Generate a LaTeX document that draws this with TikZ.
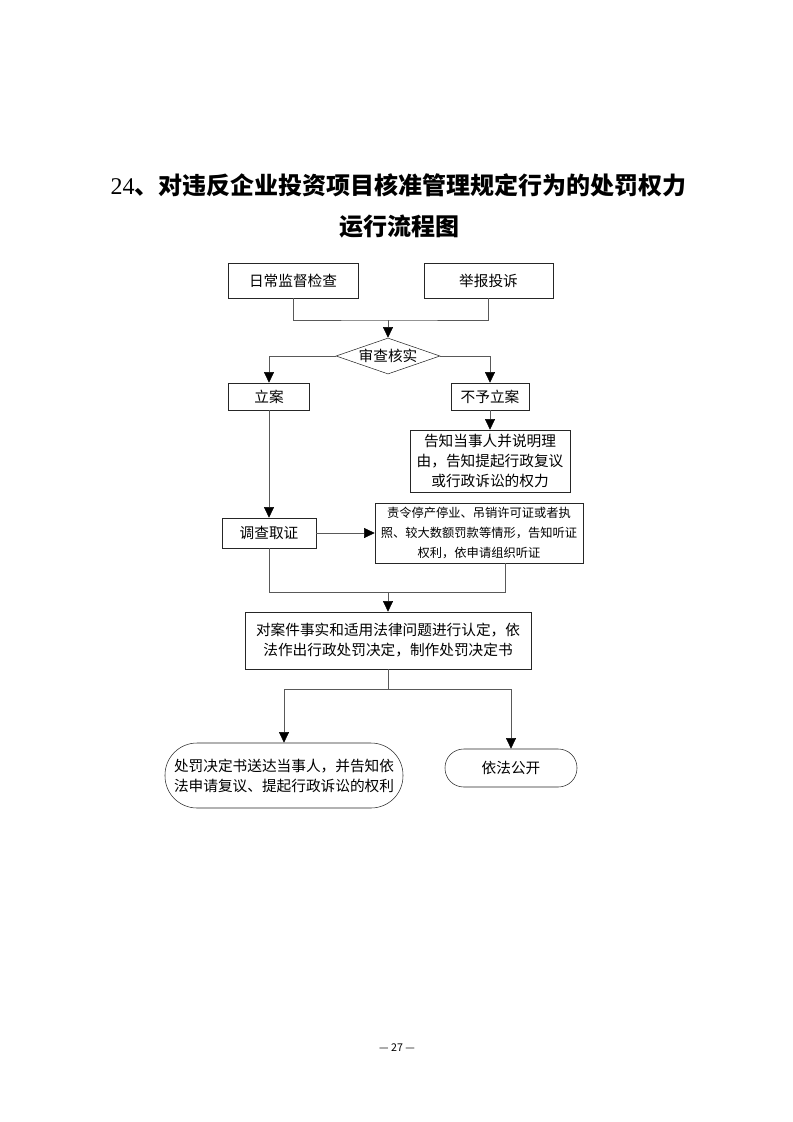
\documentclass[tikz,border=0pt]{standalone}
\usepackage{fontspec}
\setmainfont{Liberation Serif}
\newfontfamily\cjk{Noto Sans CJK SC}
\usetikzlibrary{arrows.meta,shapes.geometric}

\tikzset{
  boite/.style={draw=black!85,rectangle,inner sep=1pt,font=\cjk\fontsize{11}{15}\selectfont},
  fleche/.style={-{Triangle[length=8pt,width=7.5pt,color=black]}},
  trait/.style={draw=black!65}
}

\begin{document}
\begin{tikzpicture}[x=0.75pt,y=-0.75pt,thin,every text node part/.style={align=center}]

    \useasboundingbox (0,0) rectangle (793,1122);

    % --------------------------------------------------------- %
    % ------------- title
    % --------------------------------------------------------- %
    \node[font=\cjk\bfseries\fontsize{18}{22}\selectfont] (titre1) at (398.5,185) {{\rmfamily\mdseries 24}、对违反企业投资项目核准管理规定行为的处罚权力};
    \node[font=\cjk\bfseries\fontsize{18}{22}\selectfont] (titre2) at (399,227) {运行流程图};

    % --------------------------------------------------------- %
    % ------------- sources and check
    % --------------------------------------------------------- %
    \node[boite,minimum width=97.5pt,minimum height=26.25pt] (quot) at (293,280.5) {日常监督检查};
    \node[boite,minimum width=96.75pt,minimum height=26.25pt] (plainte) at (488.5,280.5) {举报投诉};
    \coordinate (joint1) at (388,320);
    \node[boite,diamond,aspect=2.9,inner sep=0pt,minimum width=78pt,minimum height=27pt] (verif) at (388,356) {审查核实};

    \draw[trait] (quot.south) |- (joint1) -| (plainte.south);
    \draw[trait,fleche] (joint1) -- (verif.north);

    % --------------------------------------------------------- %
    % ------------- filing or not
    % --------------------------------------------------------- %
    \node[boite,minimum width=60.75pt,minimum height=20.25pt] (lian) at (269,396.5) {立案};
    \node[boite,minimum width=58.5pt,minimum height=20.25pt] (refus) at (490,396.5) {不予立案};
    \node[boite,minimum width=120pt,minimum height=46.5pt] (gaozhi) at (490,461) {告知当事人并说明理\\由，告知提起行政复议\\或行政诉讼的权力};

    \draw[trait,fleche] (verif.west) -| (lian.north);
    \draw[trait,fleche] (verif.east) -| (refus.north);
    \draw[trait,fleche] (refus) -- (gaozhi);

    % --------------------------------------------------------- %
    % ------------- investigation and hearing
    % --------------------------------------------------------- %
    \node[boite,minimum width=70.5pt,minimum height=22.5pt] (diaocha) at (269,533) {调查取证};
    \node[boite,minimum width=156pt,minimum height=45pt,font=\cjk\fontsize{9.2}{15}\selectfont] (tingzheng) at (479,533) {责令停产停业、吊销许可证或者执\\照、较大数额罚款等情形，告知听证\\权利，依申请组织听证};
    \coordinate (joint2) at (388,592);

    \draw[trait,fleche] (lian) -- (diaocha);
    \draw[trait,fleche] (diaocha) -- (tingzheng);
    \draw[trait] (diaocha.south) |- (joint2) -| ([xshift=20pt]tingzheng.south);

    % --------------------------------------------------------- %
    % ------------- decision
    % --------------------------------------------------------- %
    \node[boite,minimum width=214.5pt,minimum height=42.75pt] (jueding) at (388,640.5) {对案件事实和适用法律问题进行认定，依\\法作出行政处罚决定，制作处罚决定书};
    \coordinate (joint3) at (388,689);

    \draw[trait,fleche] (joint2) -- (jueding);
    \draw[trait] (jueding) -- (joint3);

    % --------------------------------------------------------- %
    % ------------- delivery and publication
    % --------------------------------------------------------- %
    \node[boite,rounded corners=24pt,minimum width=178.5pt,minimum height=48.75pt] (songda) at (284,775.5) {处罚决定书送达当事人，并告知依\\法申请复议、提起行政诉讼的权利};
    \node[boite,rounded corners=14pt,minimum width=99pt,minimum height=28.5pt] (gongkai) at (511,768) {依法公开};

    \draw[trait,fleche] (joint3) -| (songda.north);
    \draw[trait,fleche] (joint3) -| (gongkai.north);

    % page number
    \node[font=\cjk\fontsize{8}{10}\selectfont] (page) at (397,1048) {— 27 —};

\end{tikzpicture}
\end{document}
